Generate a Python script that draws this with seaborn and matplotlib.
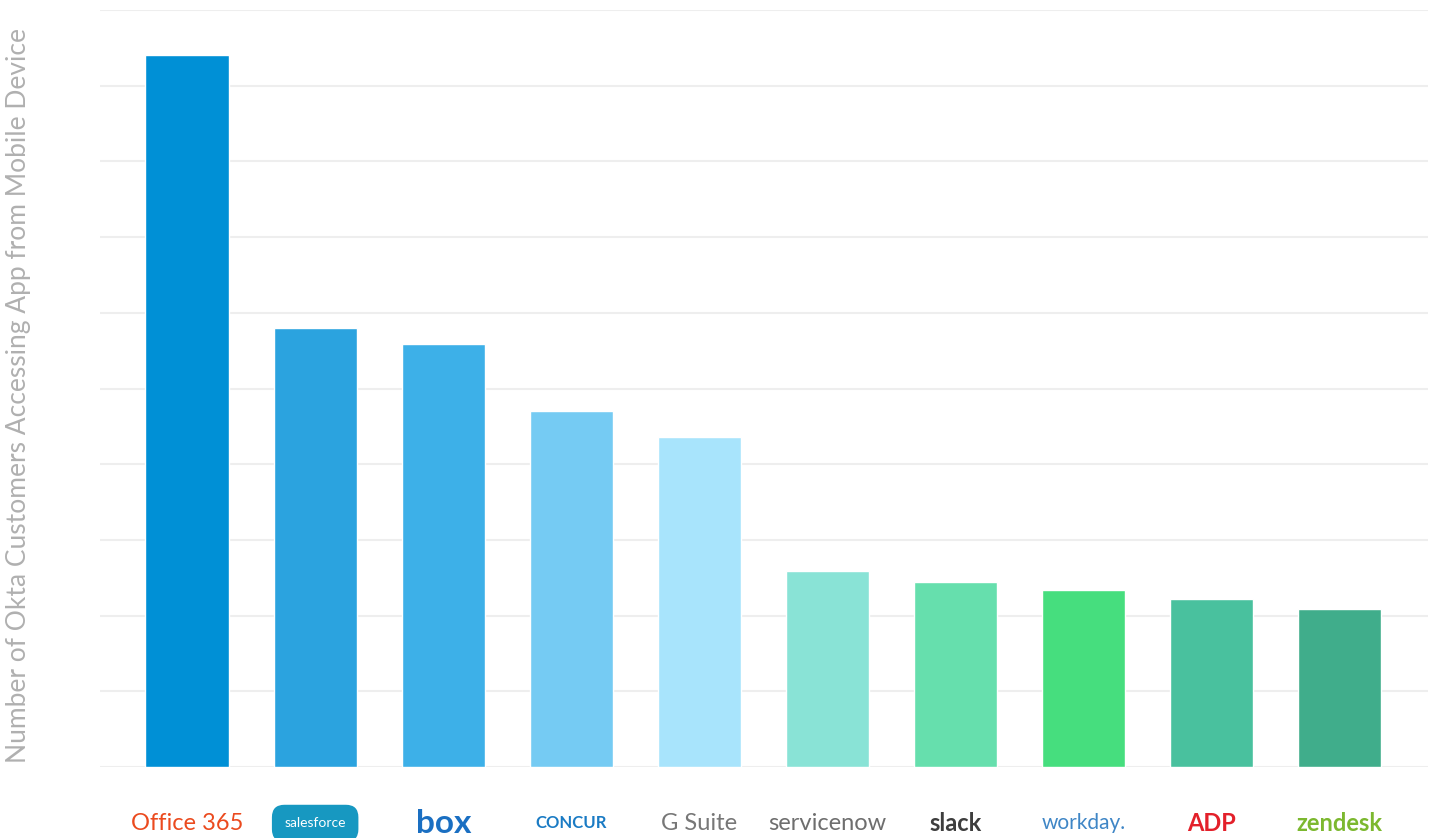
import pandas as pd
from matplotlib import pyplot as plt
import seaborn as sns
import numpy as np

apps = ['Office 365', 'salesforce', 'box', 'CONCUR', 'G Suite', 'servicenow', 'slack', 'workday.', 'ADP', 'zendesk']
customers = [9.41, 5.80, 5.59, 4.70, 4.36, 2.59, 2.44, 2.34, 2.22, 2.09]
bar_colors = ['#0090D6', '#2BA3DF', '#3DB0E8', '#75CBF3', '#A8E4FC',
              '#89E3D6', '#66DFAD', '#46DE7E', '#49C19E', '#40AD8B']
label_colors = ['#EB4A1E', '#FFFFFF', '#1A6FC2', '#1A7BC4', '#777777',
                '#6E6E6E', '#3E3E3E', '#3F86C6', '#E3202A', '#7CB82F']

df = pd.DataFrame({'app': apps, 'customers': customers})

sns.set_style("white")
plt.rcParams['font.family'] = ['Lato', 'DejaVu Sans']

fig = plt.figure(figsize=(14.35, 8.38), dpi=100)
ax = fig.add_axes([0.0697, 0.0847, 0.9254, 0.9033])

sns.barplot(data=df, x='app', y='customers', hue='app', palette=bar_colors,
            legend=False, width=0.65, saturation=1, ax=ax)

ax.set_ylim(0, 10)
ax.set_xlim(-0.68, 9.69)
ax.set_yticks(np.arange(0, 11, 1))
ax.yaxis.grid(True, color='#EEEEEE', linewidth=1.5)
ax.set_axisbelow(True)
ax.tick_params(axis='y', left=False, labelleft=False)
ax.tick_params(axis='x', bottom=False, pad=37)
sns.despine(ax=ax, left=True, bottom=True, top=True, right=True)

ax.set_xlabel('')
ax.set_ylabel('Number of Okta Customers Accessing App from Mobile Device',
              color='#B0B0B0', fontsize=19)
ax.yaxis.set_label_coords(-0.052, 0.491)

ax.set_xticks(np.arange(len(apps)), labels=apps)
for lbl, c, name in zip(ax.get_xticklabels(), label_colors, apps):
    lbl.set_color(c)
    lbl.set_fontsize(17)
    lbl.set_verticalalignment('center')
    if name == 'salesforce':
        lbl.set_fontsize(10)
        lbl.set_bbox(dict(boxstyle='round,pad=0.9', fc='#1798C1', ec='none'))
    elif name == 'box':
        lbl.set_fontsize(24)
        lbl.set_fontweight('bold')
    elif name == 'CONCUR':
        lbl.set_fontsize(12)
        lbl.set_fontweight('bold')
    elif name in ('slack', 'zendesk', 'ADP'):
        lbl.set_fontweight('bold')
        lbl.set_fontsize(17)
    elif name == 'workday.':
        lbl.set_fontsize(15)

plt.savefig('out.png', dpi=100)
